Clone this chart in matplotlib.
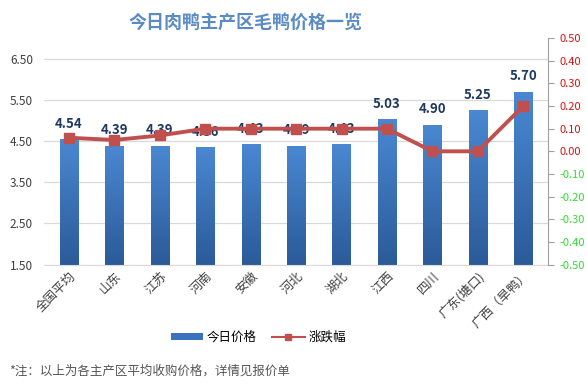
import matplotlib
matplotlib.use("Agg")
import matplotlib.pyplot as plt
import matplotlib.patches as mpatches
import numpy as np

plt.rcParams['font.family'] = ['Noto Sans CJK SC', 'DejaVu Sans']

# datos
regiones = ['全国平均', '山东', '江苏', '河南', '安徽', '河北', '湖北', '江西', '四川', '广东(塘口)', '广西（旱鸭）']
precios = [4.54, 4.39, 4.39, 4.36, 4.43, 4.39, 4.43, 5.03, 4.90, 5.25, 5.70]
cambios = [0.06, 0.05, 0.07, 0.10, 0.10, 0.10, 0.10, 0.10, 0.00, 0.00, 0.20]
ticks_izq = [1.50, 2.50, 3.50, 4.50, 5.50, 6.50]
ticks_der = [-0.5, -0.4, -0.3, -0.2, -0.1, 0.0, 0.1, 0.2, 0.3, 0.4, 0.5]

fig = plt.figure(figsize=(5.87, 3.89), dpi=100)
ax = fig.add_axes([0.075, 0.32, 0.859, 0.582])
x = np.arange(len(regiones))

ax.grid(axis='y', color='#d9d9d9', linewidth=0.9)
ax.set_axisbelow(True)
for s in ['top', 'right', 'left']:
    ax.spines[s].set_visible(False)
ax.spines['bottom'].set_color('#d9d9d9')
ax.tick_params(axis='y', length=0, pad=8)
ax.tick_params(axis='x', length=0)

# barras con degradado
barras = ax.bar(x, precios, width=0.4, color='none', zorder=2)
degradado = np.linspace(0, 1, 256).reshape(-1, 1)
cmap = matplotlib.colors.LinearSegmentedColormap.from_list('azul', ['#2b5a98', '#4a88d2'])
for b in barras:
    im = ax.imshow(degradado, cmap=cmap, aspect='auto', origin='lower',
                   extent=[b.get_x(), b.get_x() + b.get_width(), 1.5, b.get_height()], zorder=2)
    im.set_clip_path(b)

ax.set_xlim(-0.55, len(regiones) - 0.45)
ax.set_ylim(1.5, 7.0)
ax.set_yticks(ticks_izq)
ax.set_yticklabels([f"{v:.2f}" for v in ticks_izq], fontsize=8.5, color='#404040')

for xi, p in zip(x, precios):
    ax.text(xi, p + 0.37, f"{p:.2f}", ha='center', va='center', fontsize=9.5,
            color='#1f3a60', fontweight='bold', zorder=5)

ax.set_xticks(x)
ax.set_xticklabels(regiones, rotation=45, ha='right', rotation_mode='anchor', fontsize=9, color='#404040')

# eje derecho
ax2 = ax.twinx()
linea, = ax2.plot(x, cambios, color='#c0504d', linewidth=2.8, marker='s', markersize=6.5,
                  markerfacecolor='#c0504d', zorder=4)
ax2.set_ylim(-0.5, 0.5)
ax2.set_yticks(ticks_der)
ax2.set_yticklabels([f"{v:.2f}" for v in ticks_der], fontsize=8)
for lab, v in zip(ax2.get_yticklabels(), ticks_der):
    lab.set_color('#dd1111' if v >= 0 else '#33dd33')
for s in ['top', 'left', 'bottom']:
    ax2.spines[s].set_visible(False)
ax2.spines['right'].set_color('#a0a0a0')
ax2.tick_params(axis='y', length=4, color='#a0a0a0', pad=4)

fig.text(0.418, 0.943, '今日肉鸭主产区毛鸭价格一览', ha='center', va='center',
         fontsize=13, fontweight='bold', color='#5b8bc5')

leg_barra = mpatches.Patch(facecolor='#3a72bf', edgecolor='none')
leg_linea = plt.Line2D([], [], color='#c0504d', linewidth=1.5, marker='s', markersize=4)
fig.legend([leg_barra, leg_linea], ['今日价格', '涨跌幅'], loc='center', bbox_to_anchor=(0.44, 0.133),
           ncol=2, frameon=False, fontsize=9, handlelength=2.6, handleheight=0.5,
           columnspacing=1.2, handletextpad=0.3)

fig.text(0.015, 0.045, '*注：以上为各主产区平均收购价格，详情见报价单', fontsize=9, color='#555555',
         va='center')

fig.savefig('out.png', dpi=100)
